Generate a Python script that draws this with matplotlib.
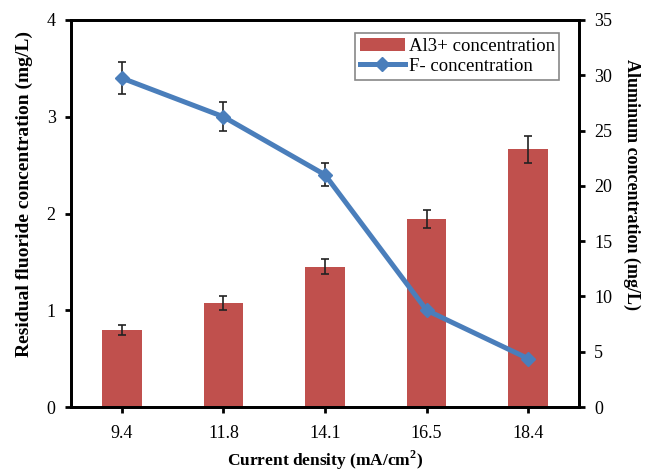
import matplotlib
matplotlib.use("Agg")
import matplotlib.pyplot as plt
import numpy as np

categories = ["9.4", "11.8", "14.1", "16.5", "18.4"]
al_conc = [7.0, 9.4, 12.7, 17.0, 23.3]
al_err = [0.45, 0.6, 0.7, 0.85, 1.2]
f_conc = [3.40, 3.00, 2.40, 1.00, 0.50]
f_err = [0.17, 0.15, 0.12, 0.03, 0.02]

plt.rcParams['font.family'] = ['Liberation Serif', 'DejaVu Serif']
plt.rcParams['mathtext.fontset'] = 'custom'
plt.rcParams['mathtext.bf'] = 'Liberation Serif:bold'
plt.rcParams['mathtext.rm'] = 'Liberation Serif'

fig = plt.figure(figsize=(6.53, 4.72), dpi=100)
ax = fig.add_axes([71/653, 1-407/472, (579-71)/653, (407-20)/472])
ax2 = ax.twinx()

x = np.arange(len(categories))
bars = ax2.bar(x, al_conc, width=0.39, color='#c0504d', yerr=al_err,
               error_kw=dict(ecolor='#222222', elinewidth=1.2, capsize=3, capthick=1.2),
               label='Al3+ concentration')
ax2.set_ylim(0, 35)
ax2.set_yticks(np.arange(0, 36, 5))

ax.errorbar(x, f_conc, yerr=f_err, fmt='none', ecolor='#222222', elinewidth=1.2,
            capsize=3, capthick=1.2, zorder=3)
line, = ax.plot(x, f_conc, color='#4a7ebb', linewidth=3.6, marker='D', markersize=7.5,
                label='F- concentration', zorder=4)
ax.set_ylim(0, 4)
ax.set_yticks(np.arange(0, 5, 1))
ax.set_xlim(-0.5, len(categories) - 0.5)
ax.set_xticks(x)
ax.set_xticklabels(categories)

ax.set_zorder(ax2.get_zorder() + 1)
ax.patch.set_visible(False)

for a in (ax, ax2):
    for s in a.spines.values():
        s.set_linewidth(2)
        s.set_color('black')
    a.tick_params(width=2, length=4, direction='out', labelsize=13, pad=7)
ax.tick_params(axis='x', pad=9)

ax.set_xlabel('Current density (mA/cm$^\\mathbf{2}$)', fontweight='bold', fontsize=12.5, labelpad=5)
ax.set_ylabel('Residual fluoride concentration (mg/L)', fontweight='bold', fontsize=14, labelpad=10)
ax2.set_ylabel('Aluminum concentration (mg/L)', fontweight='bold', fontsize=13,
               rotation=-90, labelpad=20)
ax.yaxis.label.set_y(0.55)
ax2.yaxis.label.set_y(0.575)

leg = ax.legend([bars, line], ['Al3+ concentration', 'F- concentration'],
                loc='upper right', bbox_to_anchor=(0.98, 0.99), fancybox=False,
                edgecolor='#888888', framealpha=1, fontsize=13.5,
                handlelength=2.4, handletextpad=0.2, borderpad=0.25, labelspacing=0.15)
leg.get_frame().set_linewidth(1.2)

fig.savefig('out.png', dpi=100)
